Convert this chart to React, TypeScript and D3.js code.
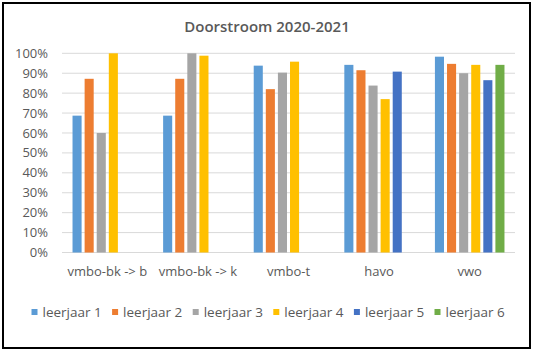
import * as d3 from 'd3';

const categories = ['vmbo-bk -> b', 'vmbo-bk -> k', 'vmbo-t', 'havo', 'vwo'];
const seriesNames = ['leerjaar 1', 'leerjaar 2', 'leerjaar 3', 'leerjaar 4', 'leerjaar 5', 'leerjaar 6'];
const seriesColors = ['#5B9BD5', '#ED7D31', '#A5A5A5', '#FFC000', '#4472C4', '#70AD47'];

// values per series, in category order (null = no bar)
const leerjaar1 = [0.687, 0.687, 0.938, 0.942, 0.983];
const leerjaar2 = [0.872, 0.872, 0.82, 0.915, 0.947];
const leerjaar3 = [0.60, 1.0, 0.903, 0.838, 0.90];
const leerjaar4 = [1.0, 0.988, 0.958, 0.77, 0.942];
const leerjaar5 = [null, null, null, 0.908, 0.865];
const leerjaar6 = [null, null, null, null, 0.942];
const yTicks = [0, 0.1, 0.2, 0.3, 0.4, 0.5, 0.6, 0.7, 0.8, 0.9, 1.0];

const seriesValues = [leerjaar1, leerjaar2, leerjaar3, leerjaar4, leerjaar5, leerjaar6];

const W = 535;
const H = 353;
const plot = { left: 62, right: 515, top: 53.3, bottom: 252.5 };
const font = '"Open Sans", "Liberation Sans", sans-serif';
const textColor = '#595959';

export default function App() {
  const x = d3.scaleBand<string>()
    .domain(categories)
    .range([plot.left, plot.right])
    .paddingInner(0)
    .paddingOuter(0);

  const xs = d3.scaleBand<string>()
    .domain(seriesNames)
    .range([0, x.bandwidth()])
    .paddingInner(0.25)
    .paddingOuter(0.87);

  const y = d3.scaleLinear().domain([0, 1]).range([plot.bottom, plot.top]);
  const fmt = d3.format('.0%');

  const legendX = d3.scaleLinear().domain([0, 5]).range([31.5, 434.5]);

  return (
    <svg width={W} height={H} style={{ position: 'absolute', left: 0, top: 0, background: '#fff' }}>
      <rect x={0} y={0} width={W} height={H} fill="#fff" />
      <rect x={3} y={3} width={527} height={345} fill="none" stroke="#000" strokeWidth={2} />

      <text x={267} y={32} textAnchor="middle" fontFamily={font} fontSize={15} fontWeight={600} fill={textColor}>
        Doorstroom 2020-2021
      </text>

      {yTicks.map(t => (
        <g key={t}>
          <line x1={plot.left} x2={plot.right} y1={y(t)} y2={y(t)} stroke="#D9D9D9" strokeWidth={1} />
          <text x={48} y={y(t)} dy="0.35em" textAnchor="end" fontFamily={font} fontSize={13} fill={textColor}>
            {fmt(t)}
          </text>
        </g>
      ))}

      {seriesValues.map((vals, si) => (
        <g key={seriesNames[si]} fill={seriesColors[si]}>
          {vals.map((v, ci) =>
            v == null ? null : (
              <rect
                key={categories[ci]}
                x={(x(categories[ci]) ?? 0) + (xs(seriesNames[si]) ?? 0)}
                y={y(v)}
                width={xs.bandwidth()}
                height={y(0) - y(v)}
              />
            )
          )}
        </g>
      ))}

      {categories.map(c => (
        <text key={c} x={(x(c) ?? 0) + x.bandwidth() / 2} y={276} textAnchor="middle" fontFamily={font} fontSize={13} fill={textColor}>
          {c}
        </text>
      ))}

      {seriesNames.map((s, i) => (
        <g key={s} transform={`translate(${legendX(i)},312)`}>
          <rect x={0} y={-3} width={6} height={6} fill={seriesColors[i]} />
          <text x={11} y={0} dy="0.35em" fontFamily={font} fontSize={13.5} fill={textColor}>
            {s}
          </text>
        </g>
      ))}
    </svg>
  );
}
